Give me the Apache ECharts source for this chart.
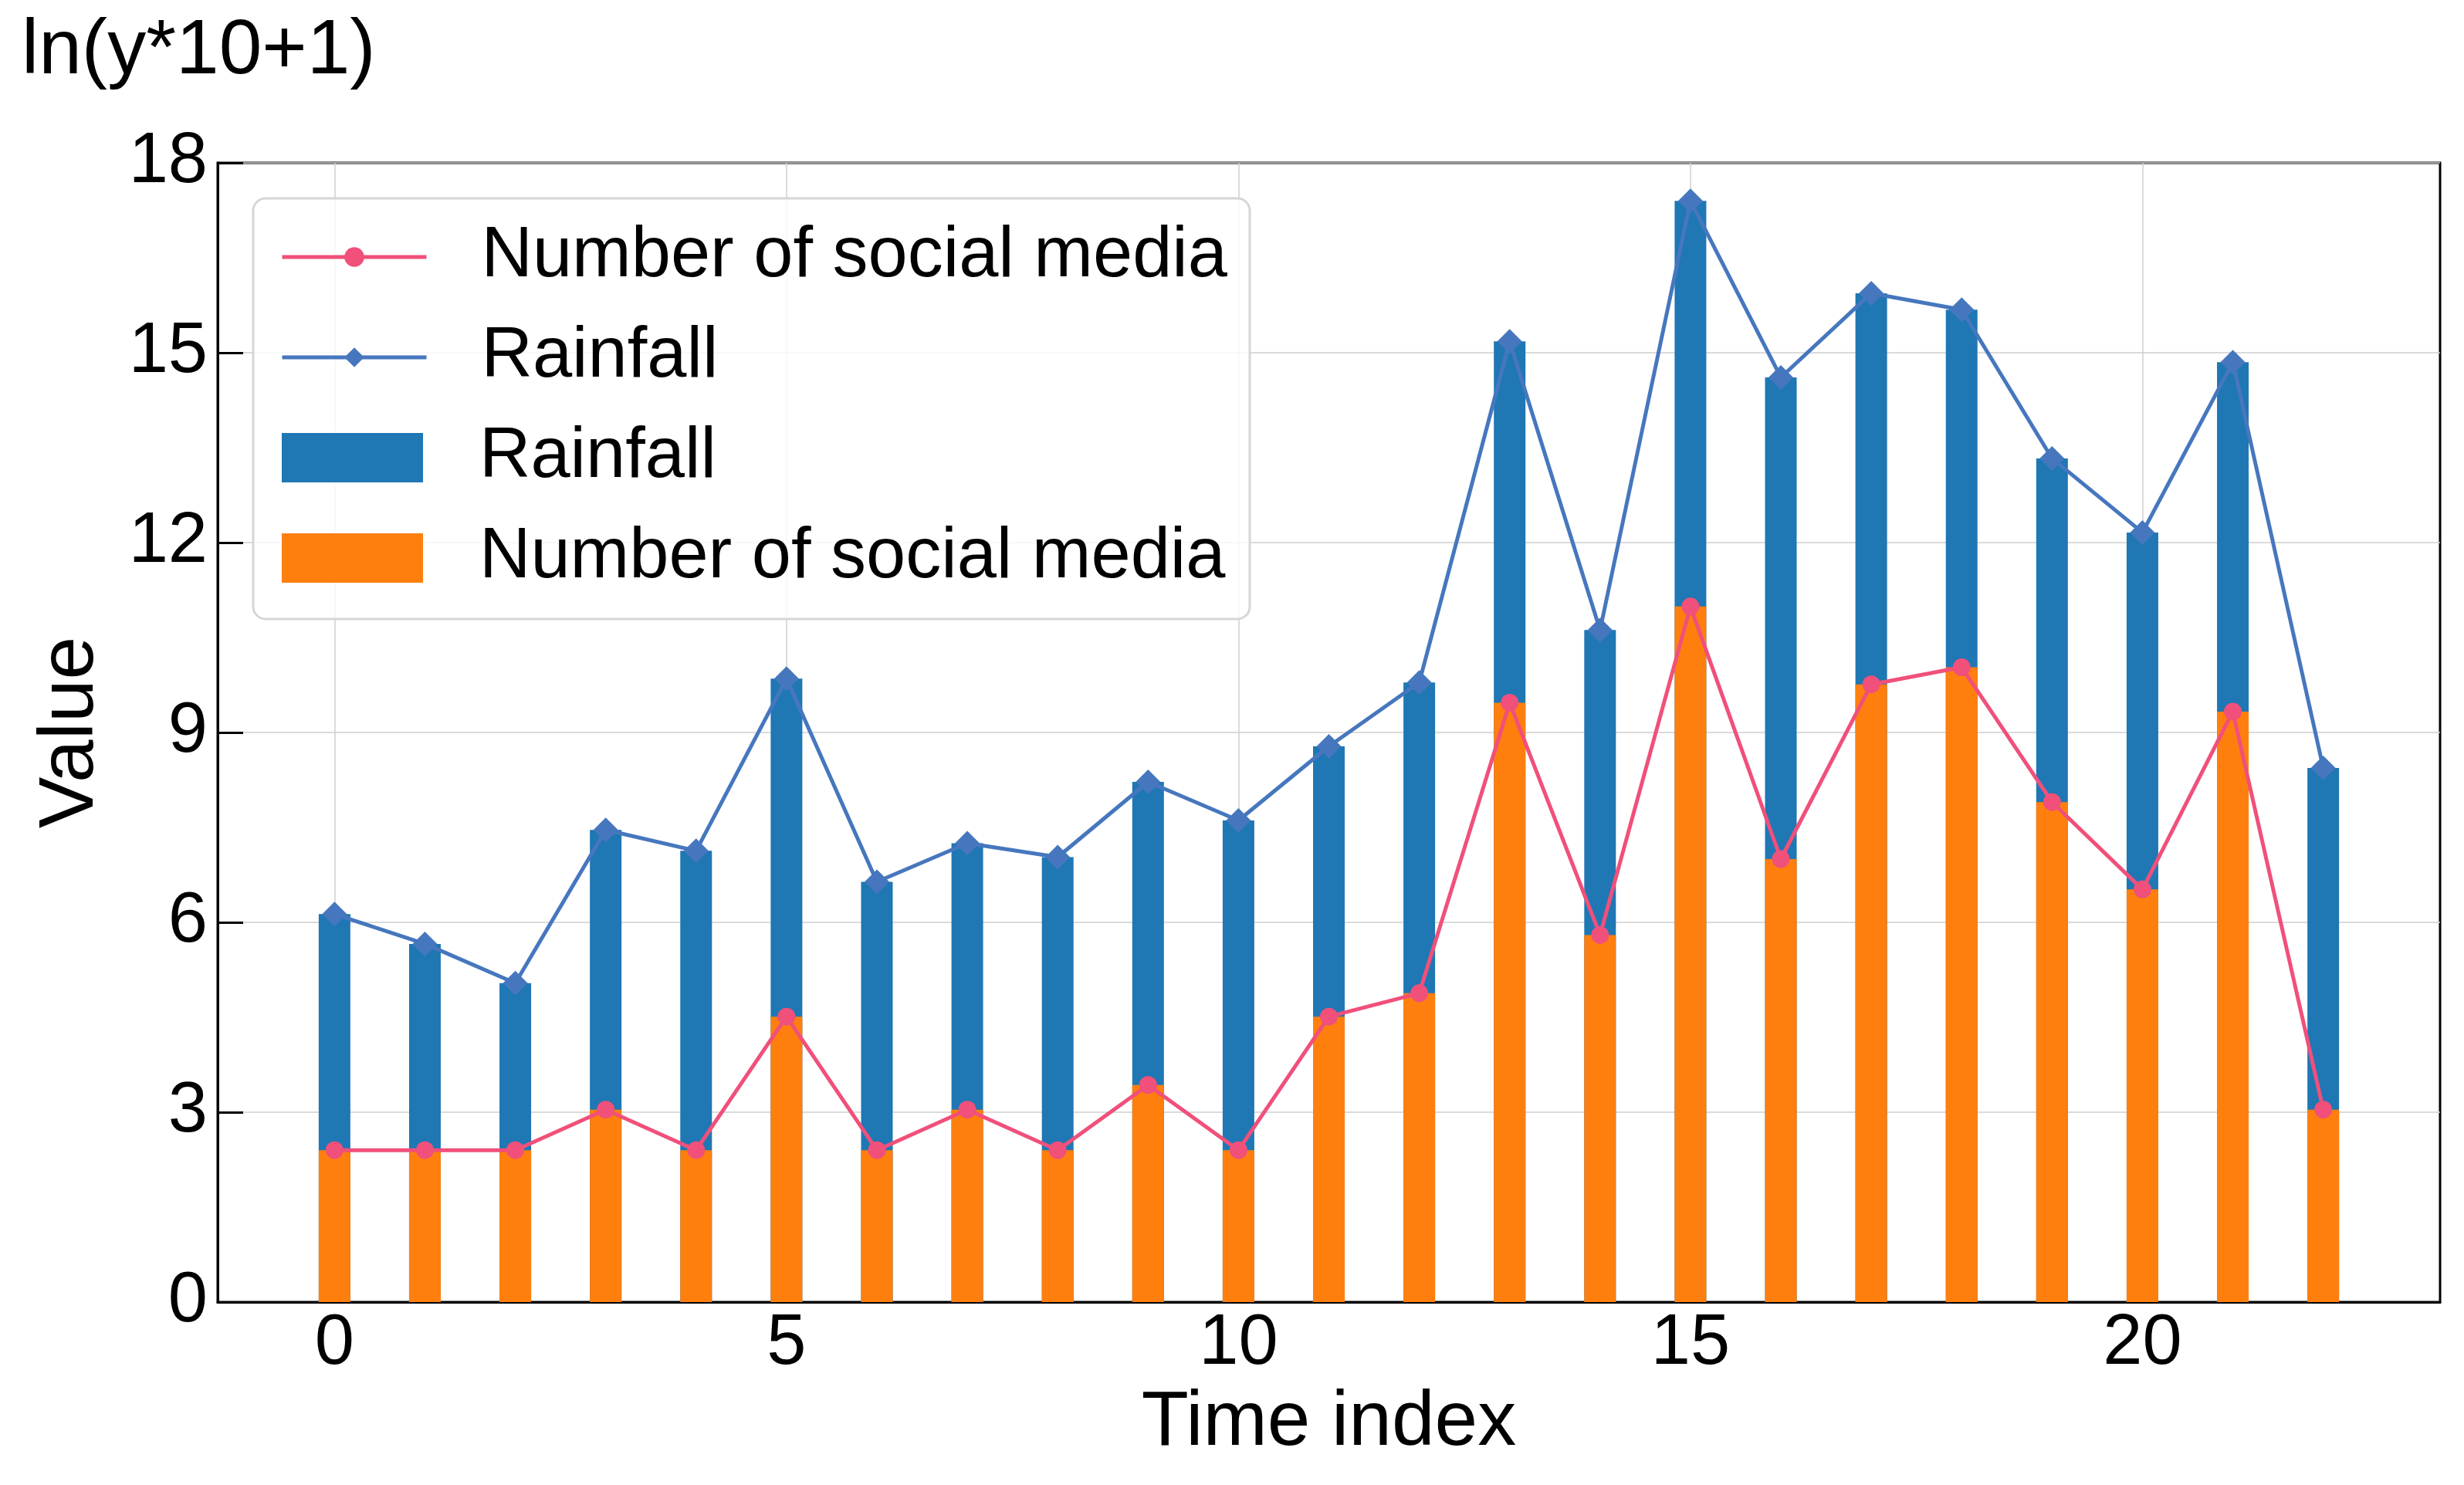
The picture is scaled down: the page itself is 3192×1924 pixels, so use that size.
<!DOCTYPE html>
<html>
<head>
<meta charset="utf-8">
<script src="https://cdn.jsdelivr.net/npm/echarts@6/dist/echarts.min.js"></script>
<style>
html,body{margin:0;padding:0;background:#fff;}
#chart{width:3192px;height:1924px;}
</style>
</head>
<body>
<div id="chart"></div>
<script>
// ---- data ----
const timeIndex = [0,1,2,3,4,5,6,7,8,9,10,11,12,13,14,15,16,17,18,19,20,21,22];
const rainfall = [6.13,5.66,5.04,7.46,7.13,9.85,6.64,7.25,7.03,8.22,7.61,8.78,9.79,15.18,10.62,17.40,14.61,15.94,15.68,13.33,12.16,14.85,8.44];
const socialMedia = [2.40,2.40,2.40,3.04,2.40,4.51,2.40,3.04,2.40,3.43,2.40,4.51,4.88,9.47,5.80,10.99,7.00,9.76,10.03,7.90,6.52,9.33,3.04];
const xTickValues = [0,5,10,15,20];
const yTicks = {min:0, max:18, interval:3};
const legendLabels = {
  socialLine: 'Number of social media',
  rainLine: 'Rainfall',
  rainBar: 'Rainfall',
  socialBar: 'Number of social media'
};
const titleText = 'ln(y*10+1)';
const xName = 'Time index';
const yName = 'Value';

const FONT = 'Liberation Sans, Arial, Helvetica, sans-serif';
const pairs = (ys) => timeIndex.map((x,i)=>[x, ys[i]]);

const chart = echarts.init(document.getElementById('chart'), null, {width:3192, height:1924});

const legendText = {fontFamily:FONT, fontSize:92, lineHeight:94, color:'#000'};

chart.setOption({
  animation:false,
  backgroundColor:'#fff',
  title:{
    text:titleText, left:28, top:17, padding:0,
    textStyle:{fontFamily:FONT, fontSize:100, lineHeight:100, fontWeight:'normal', color:'#000'}
  },
  grid:{left:282, right:31, top:211, bottom:237, show:true, borderColor:'#000', borderWidth:3, backgroundColor:'transparent'},
  xAxis:{
    type:'value', min:-1.2925, max:23.2925,
    name:xName, nameLocation:'middle', nameGap:107,
    nameTextStyle:{fontFamily:FONT, fontSize:100, lineHeight:100, color:'#000'},
    axisLine:{show:true, onZero:false, lineStyle:{color:'#000', width:3}},
    axisTick:{show:true, inside:true, length:33, customValues:xTickValues, lineStyle:{color:'#000', width:3}},
    axisLabel:{show:true, customValues:xTickValues, margin:9, fontFamily:FONT, fontSize:92, lineHeight:92, color:'#000'},
    splitLine:{show:true, lineStyle:{color:'#cfcfcf', width:1.5}}
  },
  yAxis:{
    type:'value', min:yTicks.min, max:yTicks.max, interval:yTicks.interval,
    name:yName, nameLocation:'middle', nameGap:140, nameRotate:90,
    nameTextStyle:{fontFamily:FONT, fontSize:100, lineHeight:100, color:'#000'},
    axisLine:{show:true, onZero:false, lineStyle:{color:'#000', width:3}},
    axisTick:{show:true, inside:true, length:33, lineStyle:{color:'#000', width:3}},
    axisLabel:{show:true, margin:13, fontFamily:FONT, fontSize:92, lineHeight:92, color:'#000'},
    splitLine:{show:true, lineStyle:{color:'#cfcfcf', width:1.5}}
  },
  graphic:[{
    type:'rect', z:50,
    shape:{x:328, y:257, width:1291, height:545, r:16},
    style:{fill:'rgba(255,255,255,0.8)', stroke:'#d6d6d6', lineWidth:3}
  }],
  legend:[
    {
      z:60, orient:'vertical', left:363, top:286, padding:0, itemGap:36,
      itemWidth:187, itemHeight:32, selectedMode:false,
      lineStyle:{width:5},
      data:['socialLine','rainLine'],
      formatter:(n)=>legendLabels[n],
      textStyle:Object.assign({padding:[0,0,0,66]}, legendText)
    },
    {
      z:60, orient:'vertical', left:365, top:546, padding:0, itemGap:36,
      itemWidth:183, itemHeight:64, selectedMode:false, icon:'rect',
      data:['rainBar','socialBar'],
      formatter:(n)=>legendLabels[n],
      textStyle:Object.assign({padding:[0,0,0,68]}, legendText)
    }
  ],
  series:[
    {
      name:'rainBar', type:'bar', data:pairs(rainfall), barWidth:41, barGap:'-100%',
      itemStyle:{color:'#1f77b4'}, z:2
    },
    {
      name:'socialBar', type:'bar', data:pairs(socialMedia), barWidth:41, barGap:'-100%',
      itemStyle:{color:'#ff7f0e'}, z:3
    },
    {
      name:'rainLine', type:'line', data:pairs(rainfall), symbol:'diamond', symbolSize:32,
      lineStyle:{color:'#4677be', width:5}, itemStyle:{color:'#4677be'}, z:4
    },
    {
      name:'socialLine', type:'line', data:pairs(socialMedia), symbol:'circle', symbolSize:23,
      lineStyle:{color:'#f0507a', width:5}, itemStyle:{color:'#f0507a'}, z:5
    }
  ]
});
</script>
</body>
</html>
